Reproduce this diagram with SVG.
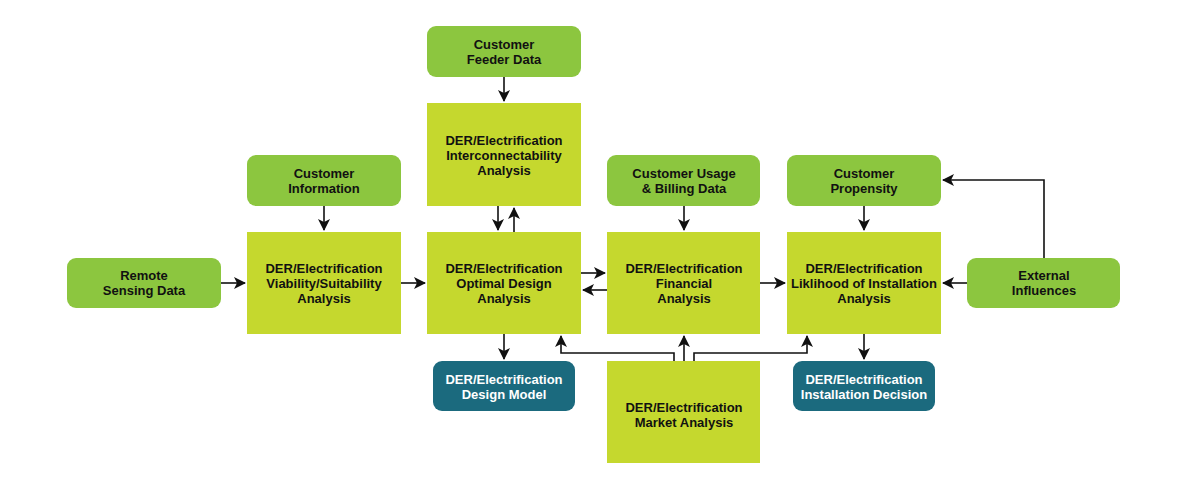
<svg xmlns="http://www.w3.org/2000/svg" width="1200" height="493" viewBox="0 0 1200 493">
<style>
.sq{fill:#c5d82e}.rd{fill:#8cc63f}.tl{fill:#1b6a7e}
text{font-family:"Liberation Sans",Arial,sans-serif;font-size:13px;font-weight:bold;text-anchor:middle;fill:#111}
.w{fill:#fff}
.c path{fill:none;stroke:#111;stroke-width:1.6;marker-end:url(#a)}
</style>
<defs><marker id="a" markerWidth="12" markerHeight="12" refX="11" refY="6" orient="auto" markerUnits="userSpaceOnUse"><path d="M0,0L12,6L0,12L3,6z" fill="#111"/></marker></defs>
<rect width="1200" height="493" fill="#fff"/>
<g id="feeder"><rect class="rd" x="427" y="26" width="154" height="51" rx="9"/><text x="504" y="49">Customer</text><text x="504" y="64">Feeder Data</text></g>
<g id="interconnect"><rect class="sq" x="427" y="103" width="154" height="103"/><text x="504" y="145">DER/Electrification</text><text x="504" y="160">Interconnectability</text><text x="504" y="175">Analysis</text></g>
<g id="custinfo"><rect class="rd" x="247" y="155" width="154" height="51" rx="9"/><text x="324" y="178">Customer</text><text x="324" y="193">Information</text></g>
<g id="usage"><rect class="rd" x="607" y="155" width="153" height="51" rx="9"/><text x="684" y="178">Customer Usage</text><text x="684" y="193">&amp; Billing Data</text></g>
<g id="propensity"><rect class="rd" x="787" y="155" width="154" height="51" rx="9"/><text x="864" y="178">Customer</text><text x="864" y="193">Propensity</text></g>
<g id="remote"><rect class="rd" x="67" y="258" width="154" height="50" rx="9"/><text x="144" y="280">Remote</text><text x="144" y="295">Sensing Data</text></g>
<g id="viability"><rect class="sq" x="247" y="232" width="154" height="102"/><text x="324" y="273">DER/Electrification</text><text x="324" y="288">Viability/Suitability</text><text x="324" y="303">Analysis</text></g>
<g id="optimal"><rect class="sq" x="427" y="232" width="154" height="102"/><text x="504" y="273">DER/Electrification</text><text x="504" y="288">Optimal Design</text><text x="504" y="303">Analysis</text></g>
<g id="financial"><rect class="sq" x="607" y="232" width="153" height="102"/><text x="684" y="273">DER/Electrification</text><text x="684" y="288">Financial</text><text x="684" y="303">Analysis</text></g>
<g id="likelihood"><rect class="sq" x="787" y="232" width="154" height="102"/><text x="864" y="273">DER/Electrification</text><text x="864" y="288">Liklihood of Installation</text><text x="864" y="303">Analysis</text></g>
<g id="external"><rect class="rd" x="967" y="258" width="153" height="50" rx="9"/><text x="1044" y="280">External</text><text x="1044" y="295">Influences</text></g>
<g id="designmodel"><rect class="tl" x="433" y="361" width="142" height="50" rx="9"/><text class="w" x="504" y="384">DER/Electrification</text><text class="w" x="504" y="399">Design Model</text></g>
<g id="market"><rect class="sq" x="607" y="361" width="153" height="102"/><text x="684" y="412">DER/Electrification</text><text x="684" y="427">Market Analysis</text></g>
<g id="decision"><rect class="tl" x="793" y="361" width="142" height="50" rx="9"/><text class="w" x="864" y="384">DER/Electrification</text><text class="w" x="864" y="399">Installation Decision</text></g>
<g class="c" id="connectors">
<path d="M504,77V101"/>
<path d="M324,206V230"/>
<path d="M684,206V230"/>
<path d="M864,206V230"/>
<path d="M498,206V230"/>
<path d="M514,232V208"/>
<path d="M221,283H245"/>
<path d="M401,283H425"/>
<path d="M581,273H605"/>
<path d="M607,290H583"/>
<path d="M760,283H785"/>
<path d="M967,283H943"/>
<path d="M1044,258V180H943"/>
<path d="M504,334V359"/>
<path d="M864,334V359"/>
<path d="M674,361V353H561V336"/>
<path d="M684,361V336"/>
<path d="M694,361V353H807V336"/>
</g>
</svg>
